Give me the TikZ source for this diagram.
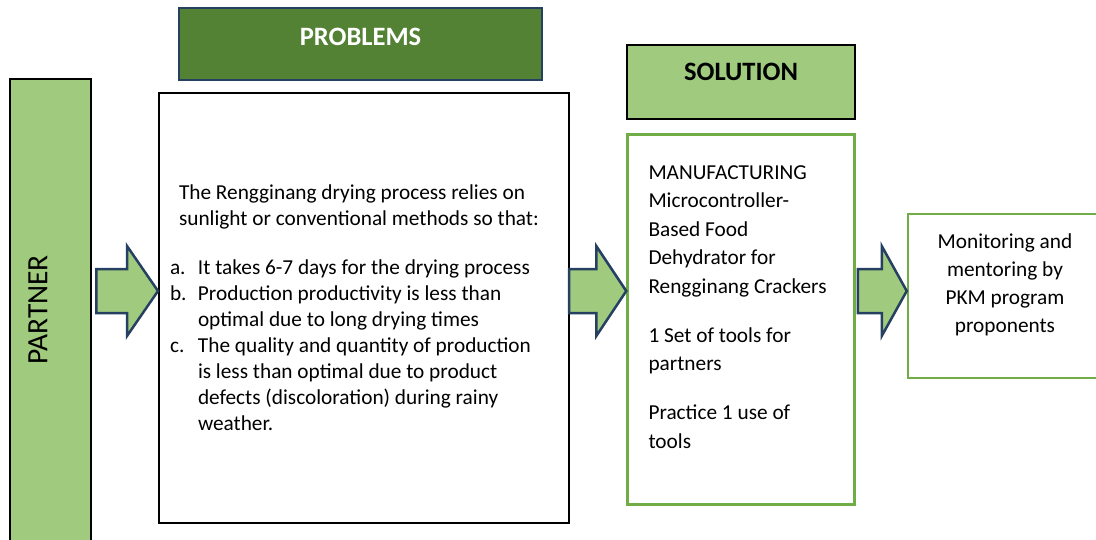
\documentclass[tikz,border=0pt]{standalone}
\usepackage{fontspec}
\setmainfont{Carlito}
\usetikzlibrary{positioning,calc}

\definecolor{leafgreen}{RGB}{160,203,126}
\definecolor{darkleaf}{RGB}{84,130,53}
\definecolor{framegreen}{RGB}{112,173,71}
\definecolor{navyline}{RGB}{38,64,97}

\begin{document}
\begin{tikzpicture}[x=1pt,y=-1pt,
  header/.style={draw, line width=2pt, inner sep=0pt, font=\fontsize{26.5}{30}\selectfont\bfseries},
  panel/.style={draw, line width=2pt, inner sep=0pt, text height=0pt},
  bodytext/.style={font=\fontsize{21.3}{#1}\selectfont, execute at begin node={\spaceskip=4.8pt\relax}},
  bigarrow/.style={fill=leafgreen, draw=navyline, line width=2.5pt, line join=miter}]
\useasboundingbox (0,0) rectangle (1096,539);
\clip (0,0) rectangle (1096,539);

% Partner bar
\node (partner) [draw, line width=2.5pt, fill=leafgreen, minimum width=81, minimum height=470, inner sep=0pt] at (50.5,314) {};
\node (partnerlabel) [rotate=90, font=\fontsize{29.5}{32}\selectfont] at (38,310) {PARTNER};

% Problems
\node (problemshead) [header, draw=navyline, fill=darkleaf, text=white, minimum width=363, minimum height=72, text height=20pt, text depth=18pt] at (360.5,44) {PROBLEMS};
\node (problems) [panel, minimum width=410, minimum height=430, text width=388pt, align=left, text depth=218pt, bodytext=26] at (364,308) {%
  \hspace*{9pt}The Rengginang drying process relies on\\
  \hspace*{9pt}sunlight or conventional methods so that:\\[23pt]
  \makebox[28pt][l]{a.}It takes 6-7 days for the drying process\\
  \makebox[28pt][l]{b.}Production productivity is less than\\
  \hspace*{28pt}optimal due to long drying times\\
  \makebox[28pt][l]{c.}The quality and quantity of production\\
  \hspace*{28pt}is less than optimal due to product\\
  \hspace*{28pt}defects (discoloration) during rainy\\
  \hspace*{28pt}weather.};

% Solution
\node (solutionhead) [header, fill=leafgreen, minimum width=228, minimum height=74, text height=16pt, text depth=20pt] at (741,82) {SOLUTION};
\node (solution) [panel, draw=framegreen, line width=2.5pt, minimum width=227, minimum height=370, text width=185pt, align=left, text depth=280pt, bodytext=28.5, below=13pt of solutionhead] {%
  MANUFACTURING\\
  Microcontroller-\\
  Based Food\\
  Dehydrator for\\
  Rengginang Crackers\\[20.5pt]
  1 Set of tools for\\
  partners\\[20.5pt]
  Practice 1 use of\\
  tools};

% Monitoring
\node (monitor) [panel, draw=framegreen, line width=2.5pt, minimum width=194, minimum height=164, text width=190pt, align=center, text depth=96pt, bodytext=28] at (1005,296) {%
  Monitoring and\\
  mentoring by\\
  PKM program\\
  proponents};

% Block arrows
\coordinate (axis) at (0,291);
\foreach \src/\dst/\gap/\head in {partner/problems/4/31, problems/solution/-1/30, solution/monitor/2/25}
  \draw[bigarrow] (\dst.west |- axis) -- ++(-\head,-45) -- ++(0,23)
    -- ($(\src.east |- axis)+(\gap,-22)$) -- ++(0,44)
    -- ($(\dst.west |- axis)+(-\head,22)$) -- ++(0,23) -- cycle;

\end{tikzpicture}
\end{document}
